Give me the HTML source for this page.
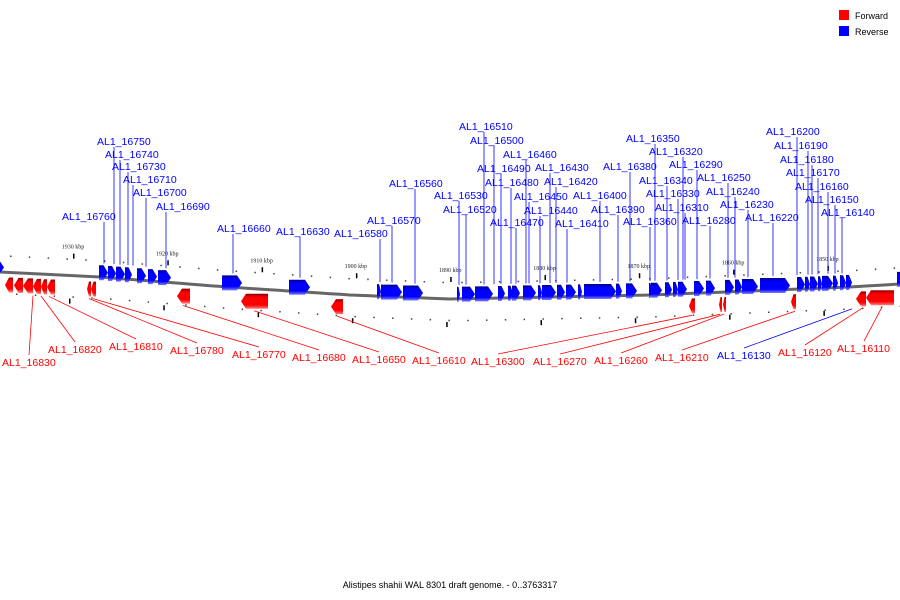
<!DOCTYPE html>
<html><head><meta charset="utf-8"><style>
body{margin:0;background:#fff;}
svg{display:block;font-family:"Liberation Sans",sans-serif;}
</style></head><body>
<svg id="chart" width="900" height="600" viewBox="0 0 900 600" xmlns="http://www.w3.org/2000/svg">
<defs>
<linearGradient id="gb" x1="0" y1="0" x2="0" y2="1"><stop offset="0" stop-color="#000090"/><stop offset="0.25" stop-color="#0000ff"/><stop offset="0.75" stop-color="#0000ff"/><stop offset="1" stop-color="#8080ff"/></linearGradient>
<linearGradient id="gr" x1="0" y1="0" x2="0" y2="1"><stop offset="0" stop-color="#900000"/><stop offset="0.25" stop-color="#ff0000"/><stop offset="0.75" stop-color="#ff0000"/><stop offset="1" stop-color="#ff8080"/></linearGradient>
</defs>
<g>
<rect x="839" y="10" width="10" height="10" fill="#ff0000"/>
<text x="855" y="19" font-size="9">Forward</text>
<rect x="839" y="26" width="10" height="10" fill="#0000ff"/>
<text x="855" y="35" font-size="9">Reverse</text>
</g>
<text x="450" y="588" font-size="9" text-anchor="middle">Alistipes shahii WAL 8301 draft genome. - 0..3763317</text>
<g id="layer"></g>
</svg>
<script>
// data
const kbpLabels = [1930,1920,1910,1900,1890,1880,1870,1860,1850];
const blueStarts = [-8,99,108,116,125,137,148,158,222,289,377,381,403,457,462,475,498,508,512,523,538,542,557,566,578,584,616,626,649,651,665,673,678,694,706,725,735,742,760,797,805,810,818,822,833,840,846,897];
const blueEnds   = [4,108,116,125,132,146,157,171,242,310,381,402,423,460,475,493,505,513,520,536,542,556,565,576,582,616,622,637,652,662,672,678,687,704,715,734,742,758,790,805,810,818,822,833,838,846,852,908];
const redStarts = [5,14,23,33,41,47,87,91,177,241,331,689,719,723,791,856,866];
const redEnds   = [13,23,33,41,47,55,91,96,190,268,343,695,722,726,796,866,894];
const blueLabels = ["AL1_16760","AL1_16750","AL1_16740","AL1_16730","AL1_16710","AL1_16700","AL1_16690","AL1_16660","AL1_16630","AL1_16580","AL1_16570","AL1_16560","AL1_16510","AL1_16500","AL1_16460","AL1_16490","AL1_16430","AL1_16480","AL1_16420","AL1_16530","AL1_16450","AL1_16400","AL1_16520","AL1_16440","AL1_16390","AL1_16470","AL1_16410","AL1_16350","AL1_16320","AL1_16380","AL1_16290","AL1_16340","AL1_16250","AL1_16330","AL1_16240","AL1_16310","AL1_16230","AL1_16360","AL1_16280","AL1_16220","AL1_16200","AL1_16190","AL1_16180","AL1_16170","AL1_16160","AL1_16150","AL1_16140"];
const blueLabelX = [62,97,105,112,123,133,156,217,276,334,367,389,459,470,503,477,535,485,544,434,514,573,443,524,591,490,555,626,649,603,669,639,697,646,706,655,720,623,682,745,766,774,780,786,795,805,821];
const blueLabelY = [216,141,154,166,179,192,206,228,231,233,220,183,126,140,154,168,167,182,181,195,196,195,209,210,209,222,223,138,151,166,164,180,177,193,191,207,204,221,220,217,131,145,159,172,186,199,212];
const blueTargets = [104,114,120,128,133,146,166,233,300,380,392,415,484,494,526,501,550,511,556,459,529,600,466,540,618,516,567,655,683,630,697,667,728,678,735,685,748,650,710,773,797,808,812,818,828,835,842];
const redLabels = ["AL1_16830","AL1_16820","AL1_16810","AL1_16780","AL1_16770","AL1_16680","AL1_16650","AL1_16610","AL1_16300","AL1_16270","AL1_16260","AL1_16210","AL1_16130","AL1_16120","AL1_16110"];
const redLabelX = [2,48,109,170,232,292,352,412,471,533,594,655,717,778,837];
const redLabelY = [362,349,346,350,354,357,359,360,361,361,360,357,355,352,348];
const redTargets = [33,41,49,89,93,183,254,337,692,720,724,795,852,862,882];

const arcPts=[[-20,271],[0,272],[100,277],[227,287],[350,295],[450,299],[650,295],[850,287],[900,284],[920,283]];
function arcY(x){for(let i=0;i<arcPts.length-1;i++){const a=arcPts[i],b=arcPts[i+1];if(x<=b[0]){const t=(x-a[0])/(b[0]-a[0]);return a[1]+t*(b[1]-a[1]);}}return 283;}
const NS="http://www.w3.org/2000/svg";
const layer=document.getElementById('layer');
function mk(t,attrs){const e=document.createElementNS(NS,t);for(const k in attrs)e.setAttribute(k,attrs[k]);layer.appendChild(e);return e;}

// backbone
let d="M0 "+arcY(0);for(let x=10;x<=900;x+=10)d+=" L"+x+" "+arcY(x).toFixed(1);
let bb=mk('path',{d:d,stroke:'#666',"stroke-width":3,fill:'none'});



// dots & ticks
for(let x=10;x<900;x+=18.8){
 let dt=mk('rect',{x:x,y:arcY(x)-17,width:1.5,height:1.5,fill:'#444'});
 
 
 let db=mk('rect',{x:x+6,y:arcY(x)+21,width:1.5,height:1.5,fill:'#444'});
 
 
}
kbpLabels.forEach((k,i)=>{
 const x=73+i*94.3;
 const tx=mk('text',{x:x,y:arcY(x)-27,"font-size":6,"font-family":"Liberation Serif,serif","text-anchor":"middle",fill:'#222'});
 tx.textContent=k+" kbp";
 
 
 const tk=mk('rect',{x:x,y:arcY(x)-22,width:1.5,height:5,fill:'#000'});
 
 
 const tl=mk('rect',{x:x-4,y:arcY(x)+23,width:1.5,height:5,fill:'#000'});
 
 
});

// genes
blueStarts.forEach((s,i)=>{
 const e=blueEnds[i],m=(s+e)/2,t=arcY(m)-12,h=15,hd=Math.min(5,(e-s)*0.5);
 const p=mk('path',{d:`M${s} ${t} L${e-hd} ${t} L${e} ${t+h/2} L${e-hd} ${t+h} L${s} ${t+h} Z`,fill:'url(#gb)'});
 
 
});
redStarts.forEach((s,i)=>{
 const e=redEnds[i],m=(s+e)/2,t=arcY(m)+5,h=15,hd=Math.min(5,(e-s)*0.5);
 const p=mk('path',{d:`M${e} ${t} L${s+hd} ${t} L${s} ${t+h/2} L${s+hd} ${t+h} L${e} ${t+h} Z`,fill:'url(#gr)'});
 
 
});

// labels
blueLabels.forEach((L,i)=>{
 const lx=blueLabelX[i],ly=blueLabelY[i],tx=blueTargets[i];
 const sx=Math.max(lx+5,Math.min(lx+50,tx));
 const ln=mk('line',{x1:sx,y1:ly+6,x2:tx,y2:arcY(tx)-14,stroke:'#0000ff',"stroke-width":0.8});
 
 
 const t=mk('text',{x:lx,y:ly+4,"font-size":10.5,fill:'#0000ff'});
 t.textContent=L;
 
 
});
redLabels.forEach((L,i)=>{
 const lx=redLabelX[i],ly=redLabelY[i],tx=redTargets[i];
 const col=L==="AL1_16130"?'#0000ff':'#ff0000';
 const ln=mk('line',{x1:lx+27,y1:ly-7,x2:tx,y2:arcY(tx)+22,stroke:col,"stroke-width":0.8});
 
 
 const t=mk('text',{x:lx,y:ly+4,"font-size":10.5,fill:col});
 t.textContent=L;
 
 
});
</script>
</body></html>
